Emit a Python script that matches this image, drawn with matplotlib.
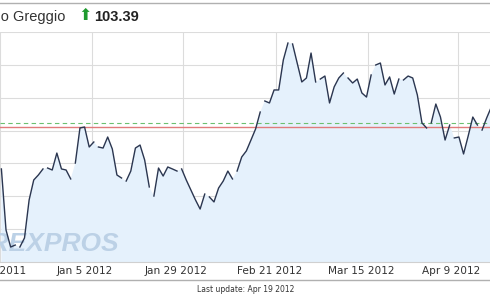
import numpy as np
import matplotlib
matplotlib.use("Agg")
import matplotlib.pyplot as plt
import matplotlib.transforms as mtransforms

# daily closes, Petrolio Greggio
prices = [99.58, 94.94, 93.64, 93.79,
          93.64, 94.33, 97.22, 98.74, 99.12, 99.58,
          99.65, 99.50, 100.79, 99.58, 99.50, 98.82,
          100.03, 102.70, 102.77, 101.25, 101.63,
          101.25, 101.17, 102.01, 101.10, 99.12, 98.89,
          98.66, 99.42, 101.17, 101.40, 100.26, 98.21,
          97.52, 99.65, 99.04, 99.73, 99.58, 99.42,
          99.58, 98.74, 97.98, 97.22, 96.53, 97.67,
          97.45, 97.07, 98.13, 98.66, 99.42, 98.82,
          99.42, 100.49, 100.95, 101.78, 102.62, 103.91,
          104.75, 104.60, 105.59, 105.59, 107.87, 109.16,
          109.09, 107.64, 106.20, 106.50, 108.40, 106.20,
          106.42, 106.65, 104.60, 105.82, 106.50, 106.88,
          106.50, 106.12, 106.42, 105.36, 105.05, 106.73,
          107.49, 107.64, 105.97, 106.58, 105.28, 106.42,
          106.35, 106.65, 106.50, 105.21, 103.08, 102.70,
          103.08, 104.52, 103.53, 101.78, 102.92,
          101.94, 102.01, 100.72, 102.09, 103.53, 102.92,
          102.54, 103.46, 104.29]
# number of sessions in each week (line is broken between weeks)
week_len = [4, 6, 6, 5, 6, 6, 6, 6, 6, 6, 6, 6, 6, 6, 6, 6, 5, 6, 3]

tick_pos = [19.5, 39.3, 59.5, 79.3, 98.8]
tick_labels = ["Jan 5 2012", "Jan 29 2012", "Feb 21 2012", "Mar 15 2012", "Apr 9 2012"]
left_label = "Dec 12 2011"
ref_red = 102.77
ref_green = 103.08
last_price = "103.39"

#################
x = np.arange(len(prices))
y = np.array(prices)

fig = plt.figure(figsize=(4.9, 2.95), dpi=100)
ax = fig.add_axes([0, 33 / 295, 1, 230 / 295])

ax.fill_between(x, y, 80, color="#e5f1fc", lw=0, zorder=1)
ax.text(25.4, 93.85, "FOREXPROS", ha="right", va="center", fontsize=19,
        family="Liberation Sans", fontweight="bold", style="italic",
        color="#bcd1e6", zorder=2)

starts = np.cumsum([0] + week_len[:-1])
for s, n in zip(starts, week_len):
    ax.plot(x[s:s + n], y[s:s + n], "-", color="#2b3650", lw=1, zorder=4)

ax.axhline(ref_red, color="#e07b7b", lw=1, zorder=3)
ax.axhline(ref_green, color="#6cc070", lw=0.8, dashes=(4, 3), zorder=3)

ax.set_xlim(0.12, 105.72)
ax.set_ylim(92.5, 110)
ax.set_yticks(np.arange(92.5, 110.1, 2.5))
ax.set_xticks([tick_pos[0] - 19.8] + tick_pos)
ax.set_xticklabels([left_label] + tick_labels, fontsize=7.6, color="#333333")
ax.tick_params(axis="x", length=0, pad=3)
ax.tick_params(axis="y", length=0, labelleft=False)
offset = mtransforms.ScaledTranslation(-7 / 100, 0, fig.dpi_scale_trans)
for lab in ax.get_xticklabels():
    lab.set_transform(lab.get_transform() + offset)
ax.grid(True, color="#dcdcdc", lw=0.8, zorder=0)
ax.set_axisbelow(True)
for side in ["left", "right", "top"]:
    ax.spines[side].set_visible(False)
ax.spines["bottom"].set_color("#d0d0d0")

# header and footer
fig.add_artist(plt.Line2D([0, 1], [1 - 2.5 / 295, 1 - 2.5 / 295], color="#b0b0b0", lw=1))
fig.add_artist(plt.Line2D([0, 1], [1 - 280 / 295, 1 - 280 / 295], color="#b0b0b0", lw=1))
fig.text(65 / 490, 1 - 17 / 295, "Petrolio Greggio", ha="right", va="center",
         fontsize=10.5, family="Liberation Sans", color="#333333")
fig.text(85 / 490, 1 - 16 / 295, "\u2b06", ha="center", va="center",
         fontsize=11.5, color="#1e9a2e")
fig.text(94 / 490, 1 - 17 / 295, last_price, ha="left", va="center",
         fontsize=10.5, family="Liberation Sans", fontweight="bold", color="#222222")
fig.text(246 / 490, 1 - 289 / 295, "Last update: Apr 19 2012", ha="center",
         va="center", fontsize=5.5, color="#333333")

fig.savefig("out.png", dpi=100)
